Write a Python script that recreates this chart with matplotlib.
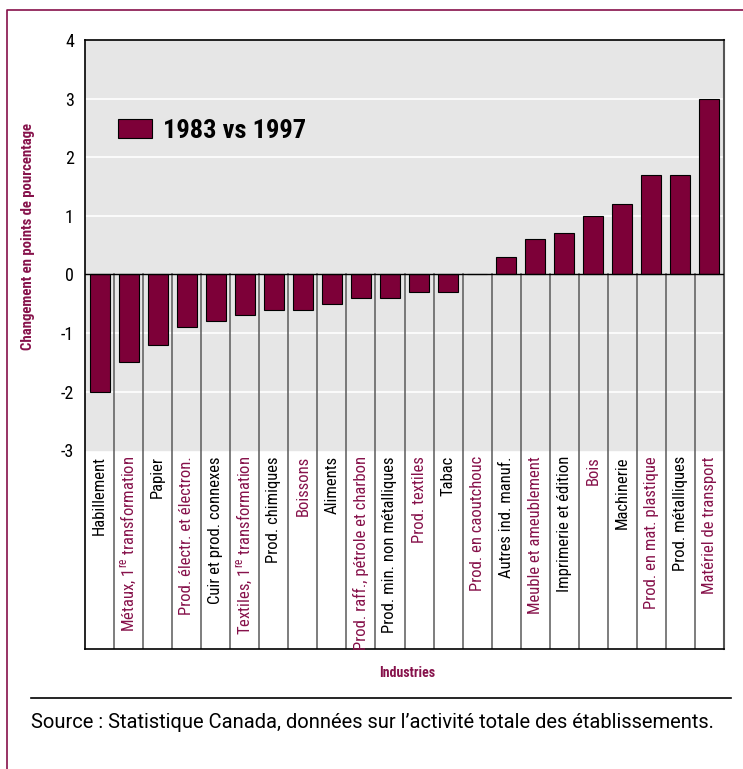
import matplotlib
matplotlib.use("Agg")
import matplotlib.pyplot as plt
from matplotlib import font_manager
from matplotlib.lines import Line2D

# data
industries = [
    "Habillement", "Métaux, 1$^{\\mathrm{re}}$ transformation", "Papier",
    "Prod. électr. et électron.", "Cuir et prod. connexes",
    "Textiles, 1$^{\\mathrm{re}}$ transformation", "Prod. chimiques", "Boissons",
    "Aliments", "Prod. raff., pétrole et charbon", "Prod. min. non métalliques",
    "Prod. textiles", "Tabac", "Prod. en caoutchouc", "Autres ind. manuf.",
    "Meuble et ameublement", "Imprimerie et édition", "Bois", "Machinerie",
    "Prod. en mat. plastique", "Prod. métalliques", "Matériel de transport",
]
change = [-2.0, -1.5, -1.2, -0.9, -0.8, -0.7, -0.6, -0.6, -0.5, -0.4, -0.4,
          -0.3, -0.3, 0.0, 0.3, 0.6, 0.7, 1.0, 1.2, 1.7, 1.7, 3.0]
highlight = [False, True, False, True, False, True, False, True, False, True, False,
             True, False, True, False, True, False, True, False, True, False, True]
yticks = [-3, -2, -1, 0, 1, 2, 3, 4]

BAR = "#7d0038"
MAROON = "#86114a"
GRAY = "#e6e6e6"

names = {f.name for f in font_manager.fontManager.ttflist}
def pick(cands):
    return next((f for f in cands if f in names), "DejaVu Sans")

FONT = pick(["Roboto Condensed", "Archivo Narrow", "PT Sans Narrow"])
WIDE = pick(["Roboto", "Liberation Sans"])
plt.rcParams["font.family"] = [FONT, "DejaVu Sans"]
plt.rcParams["mathtext.fontset"] = "custom"
plt.rcParams["mathtext.rm"] = FONT

W, H = 743, 769
fig = plt.figure(figsize=(W / 100, H / 100), dpi=100)

def fx(px):
    return px / W

def fy(py):
    return 1 - py / H

ax_l, ax_r, ax_t, ax_b = 85, 724, 40, 649
ax = fig.add_axes([fx(ax_l), fy(ax_b), fx(ax_r - ax_l), (ax_b - ax_t) / H])

n = len(industries)
x = list(range(n))
unit = 58.5
ymin = -3 - (ax_b - 450.5) / unit
ax.set_xlim(-0.5, n - 0.5)
ax.set_ylim(ymin, 4)
ax.set_facecolor("white")
ax.axhspan(-3, 4, color=GRAY, zorder=0)
for g in [-2, -1, 1, 2, 3]:
    ax.axhline(g, color="white", lw=1.2, zorder=1)

# separators below zero
for k in range(n - 1):
    ax.plot([k + 0.5, k + 0.5], [ymin, 0], color="#5a5a5a", lw=1.1, zorder=2)

bars = ax.bar(x, change, width=0.69, color=BAR, edgecolor="black", linewidth=0.8,
              zorder=3, label="1983 vs 1997")
ax.axhline(0, color="black", lw=1.0, zorder=4)

for k, (name, hl) in enumerate(zip(industries, highlight)):
    ax.text(k, -3.1, name, rotation=90, ha="center", va="top", fontsize=12,
            color=MAROON if hl else "black", zorder=5)

ax.set_xticks([])
ax.set_yticks(yticks)
ax.set_yticklabels([str(t) for t in yticks], fontsize=13)
ax.tick_params(axis="y", length=0, pad=8)
for side in ["top", "left", "bottom"]:
    ax.spines[side].set_color("black")
    ax.spines[side].set_linewidth(1.2)
ax.spines["right"].set_color("#555555")
ax.spines["right"].set_linewidth(1.5)

leg = ax.legend(loc="center left", bbox_to_anchor=(fx(118), fy(131)),
                bbox_transform=fig.transFigure, frameon=False, borderpad=0,
                borderaxespad=0, handlelength=1.3, handleheight=0.72,
                handletextpad=0.4, prop={"family": FONT, "weight": "bold", "size": 19})

fig.text(fx(28), fy(237), "Changement en points de pourcentage", rotation=90,
         ha="center", va="center", fontsize=10.6, fontweight="bold", color=MAROON)
fig.text(fx(407), fy(673), "Industries", ha="center", va="center", fontsize=10,
         fontweight="bold", color=MAROON)
fig.text(fx(31), fy(722), "Source : Statistique Canada, données sur l\u2019activité totale des établissements.",
         ha="left", va="center", fontsize=14.5, family=WIDE, color="black")

fig.add_artist(Line2D([fx(31), fx(731)], [fy(698), fy(698)], color="black", lw=1.2))
fig.add_artist(Line2D([fx(7), fx(7), fx(743)], [0, fy(10), fy(10)], color=MAROON, lw=1.2))

fig.savefig("out.png", dpi=100)
